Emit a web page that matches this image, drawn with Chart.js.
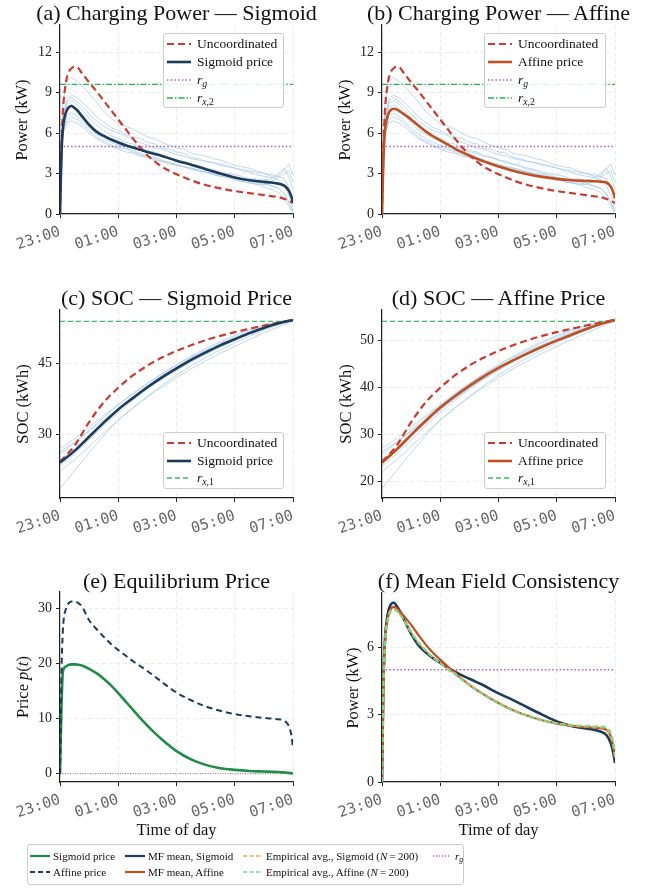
<!DOCTYPE html>
<html><head><meta charset="utf-8">
<script src="https://cdn.jsdelivr.net/npm/chart.js@4.4.1/dist/chart.umd.min.js"></script>
<style>
html,body{margin:0;padding:0;background:#fff;}
#wrap{position:relative;width:657px;height:888px;overflow:hidden;font-family:"Liberation Serif","Times New Roman",serif;color:#111;}
canvas{position:absolute;}
.t{position:absolute;white-space:nowrap;line-height:1;}
.title{font-size:22px;transform:translateX(-50%);}
.ylab{font-size:16.5px;transform:translate(-50%,-50%) rotate(-90deg);}
.xlab{font-size:16.5px;transform:translateX(-50%);}
.leg{position:absolute;border:1px solid #cccccc;border-radius:3px;background:rgba(255,255,255,0.85);box-sizing:border-box;}
.li{position:absolute;line-height:1;white-space:nowrap;transform:translateY(-50%);}
.sw{position:absolute;transform:translateY(-50%);}
sub{font-size:72%;vertical-align:-0.28em;line-height:0;}
</style></head><body><div id="wrap"></div>
<script>
// ---------------- DATA ----------------
const xTickHours = [0, 2, 4, 6, 8];
const xTickLabels = ["23:00", "01:00", "03:00", "05:00", "07:00"];
const powerTicks = [0, 3, 6, 9, 12];
const socTicksC = [30, 45];
const socTicksD = [20, 30, 40, 50];
const priceTicks = [0, 10, 20, 30];
const mfTicks = [0, 3, 6];

const rG = 5.0;      // r_g
const rX2 = 9.6;     // r_{x,2}
const rX1 = 54.0;    // r_{x,1}

// main curve time grid (hours after 23:00)
const hours = [0, 0.05, 0.1, 0.2, 0.3, 0.4, 0.5, 0.6, 0.75, 1.0, 1.25, 1.5, 1.75, 2.0, 2.25, 2.5, 2.75, 3.0, 3.25, 3.5, 3.75, 4.0, 4.5, 5.0, 5.5, 6.0, 6.5, 7.0, 7.25, 7.5, 7.7, 7.85, 7.95, 8.0];
const uncoordPower = [0, 5.0, 7.6, 9.7, 10.5, 10.8, 10.9, 10.85, 10.45, 9.75, 9.1, 8.4, 7.7, 7.0, 6.3, 5.6, 4.95, 4.35, 3.9, 3.5, 3.2, 2.95, 2.5, 2.15, 1.9, 1.7, 1.55, 1.4, 1.32, 1.25, 1.12, 1.0, 0.88, 0.8];
const sigmoidPower = [0, 4.5, 6.3, 7.5, 7.9, 8.0, 7.85, 7.65, 7.25, 6.6, 6.1, 5.78, 5.52, 5.3, 5.1, 4.92, 4.75, 4.6, 4.45, 4.3, 4.12, 3.95, 3.65, 3.32, 3.0, 2.7, 2.5, 2.38, 2.33, 2.25, 2.1, 1.75, 1.25, 0.85];
const affinePower = [0, 4.2, 6.1, 7.3, 7.7, 7.8, 7.75, 7.62, 7.4, 7.0, 6.55, 6.12, 5.76, 5.45, 5.15, 4.85, 4.58, 4.33, 4.1, 3.9, 3.7, 3.52, 3.2, 2.95, 2.75, 2.6, 2.5, 2.45, 2.43, 2.4, 2.33, 2.05, 1.55, 1.15];
const empSigmoidPower = [0, 4.4, 6.2, 7.3, 7.65, 7.72, 7.65, 7.5, 7.2, 6.65, 6.2, 5.85, 5.55, 5.3, 5.05, 4.85, 4.6, 4.35, 4.12, 3.9, 3.7, 3.52, 3.2, 2.95, 2.75, 2.62, 2.52, 2.47, 2.45, 2.43, 2.35, 2.05, 1.5, 1.05];
const empAffinePower = [0, 4.3, 6.1, 7.2, 7.6, 7.68, 7.62, 7.5, 7.22, 6.7, 6.22, 5.86, 5.55, 5.28, 5.02, 4.8, 4.55, 4.32, 4.1, 3.88, 3.68, 3.5, 3.18, 2.93, 2.74, 2.62, 2.53, 2.5, 2.48, 2.47, 2.42, 2.2, 1.7, 1.2];
const sigmoidPrice = [0, 12, 18.5, 19.4, 19.7, 19.8, 19.8, 19.75, 19.6, 19.0, 18.2, 17.2, 16.0, 14.6, 13.1, 11.6, 10.1, 8.7, 7.4, 6.2, 5.1, 4.1, 2.6, 1.6, 1.0, 0.7, 0.5, 0.4, 0.35, 0.3, 0.22, 0.15, 0.08, 0.05];
const affinePrice = [0, 18, 26, 29.8, 30.9, 31.2, 31.2, 31.0, 30.3, 27.8, 26.2, 24.8, 23.5, 22.4, 21.4, 20.4, 19.5, 18.6, 17.6, 16.6, 15.6, 14.7, 13.3, 12.2, 11.4, 10.8, 10.4, 10.1, 10.0, 9.85, 9.6, 8.7, 6.8, 4.6];

// SOC grid
const socHours = [0, 0.5, 1, 1.5, 2, 2.5, 3, 3.5, 4, 4.5, 5, 5.5, 6, 6.5, 7, 7.5, 8];
const uncoordSOC = [24.2, 27.6, 32.6, 36.8, 39.9, 42.5, 44.6, 46.3, 47.7, 48.9, 50.0, 50.9, 51.7, 52.4, 53.1, 53.7, 54.3];
const sigmoidSOC = [24.0, 26.5, 29.5, 32.5, 35.3, 37.7, 40.0, 42.1, 44.0, 45.8, 47.4, 48.9, 50.2, 51.5, 52.6, 53.6, 54.3];
const affineSOC = [24.0, 26.8, 29.9, 32.9, 35.7, 38.1, 40.3, 42.3, 44.1, 45.7, 47.2, 48.6, 49.9, 51.1, 52.3, 53.4, 54.3];

// sampled individual EV trajectories (light blue)
const sampleHours = [0, 0.1, 0.25, 0.4, 0.6, 0.8, 1.0, 1.25, 1.5, 1.75, 2.0, 2.25, 2.5, 2.75, 3.0, 3.25, 3.5, 3.75, 4.0, 4.25, 4.5, 4.75, 5.0, 5.25, 5.5, 5.75, 6.0, 6.25, 6.5, 6.75, 7.0, 7.25, 7.5, 7.7, 7.85, 8.0];
const samplePower1 = [0, 8.2, 9.9, 10.1, 9.8, 9.4, 8.9, 8.3, 7.6, 7.1, 6.7, 6.5, 6.3, 6.0, 5.7, 5.6, 5.3, 5.1, 4.9, 4.8, 4.5, 4.4, 4.3, 4.1, 4.0, 3.8, 3.6, 3.5, 3.4, 3.2, 3.0, 2.8, 2.5, 2.1, 1.4, 0.5];
const samplePower2 = [0, 7.3, 8.6, 8.8, 8.6, 8.2, 7.8, 7.2, 6.8, 6.4, 6.2, 5.9, 5.7, 5.6, 5.3, 5.2, 4.9, 4.8, 4.6, 4.5, 4.2, 4.1, 3.9, 3.8, 3.6, 3.5, 3.4, 3.2, 3.1, 2.9, 2.8, 2.7, 2.8, 3.3, 3.7, 2.9];
const samplePower3 = [0, 7.0, 8.2, 8.4, 8.1, 7.6, 7.1, 6.6, 6.2, 5.8, 5.6, 5.3, 5.2, 4.9, 4.7, 4.6, 4.3, 4.2, 4.0, 3.8, 3.7, 3.5, 3.3, 3.2, 3.0, 2.9, 2.7, 2.6, 2.5, 2.4, 2.3, 2.1, 1.9, 1.5, 0.9, 0.1];
const samplePower4 = [0, 6.7, 7.9, 8.1, 7.8, 7.3, 6.8, 6.2, 5.9, 5.6, 5.4, 5.1, 5.0, 4.8, 4.6, 4.5, 4.3, 4.2, 4.0, 3.9, 3.7, 3.6, 3.4, 3.3, 3.1, 3.0, 2.9, 2.8, 2.6, 2.6, 2.5, 2.6, 3.0, 3.4, 2.8, 1.8];
const samplePower5 = [0, 6.3, 7.3, 7.5, 7.2, 6.8, 6.4, 5.9, 5.6, 5.3, 5.1, 4.9, 4.7, 4.5, 4.3, 4.2, 4.0, 3.8, 3.7, 3.5, 3.4, 3.2, 3.1, 2.9, 2.8, 2.7, 2.5, 2.4, 2.3, 2.2, 2.0, 1.8, 1.6, 1.2, 0.6, 0];
const samplePower6 = [0, 6.1, 7.0, 7.2, 7.0, 6.6, 6.2, 5.7, 5.4, 5.1, 4.9, 4.8, 4.6, 4.4, 4.2, 4.1, 3.9, 3.8, 3.6, 3.5, 3.3, 3.2, 3.1, 3.0, 2.8, 2.7, 2.6, 2.4, 2.3, 2.2, 2.2, 2.4, 2.7, 3.0, 3.2, 2.4];
const samplePower7 = [0, 5.9, 6.8, 6.9, 6.7, 6.4, 6.0, 5.6, 5.3, 5.0, 4.8, 4.6, 4.5, 4.3, 4.2, 4.0, 3.9, 3.7, 3.6, 3.5, 3.4, 3.3, 3.1, 3.0, 2.9, 2.8, 2.7, 2.6, 2.4, 2.3, 2.2, 2.1, 1.9, 1.5, 0.9, 0.3];
const samplePower8 = [0, 7.1, 8.4, 8.6, 8.3, 7.9, 7.4, 6.9, 6.5, 6.2, 6.0, 5.8, 5.5, 5.3, 5.1, 4.9, 4.8, 4.6, 4.4, 4.3, 4.1, 4.0, 3.9, 3.8, 3.7, 3.6, 3.4, 3.3, 3.2, 3.1, 3.0, 2.9, 2.8, 2.6, 2.0, 1.1];
const sampleSOC1 = [18.5, 22.3, 26.1, 29.7, 33.0, 35.6, 37.9, 40.0, 42.0, 43.9, 45.6, 47.2, 48.7, 50.1, 51.5, 52.8, 54.0];
const sampleSOC2 = [22.2, 24.6, 27.4, 30.3, 33.0, 35.6, 38.1, 40.4, 42.6, 44.5, 46.3, 47.9, 49.4, 50.8, 52.1, 53.2, 54.1];
const sampleSOC3 = [23.3, 25.9, 28.9, 31.9, 34.6, 37.2, 39.6, 41.7, 43.6, 45.4, 47.0, 48.5, 49.9, 51.2, 52.4, 53.4, 54.2];
const sampleSOC4 = [24.5, 27.0, 29.8, 32.6, 35.3, 37.9, 40.3, 42.4, 44.3, 46.1, 47.6, 49.0, 50.3, 51.6, 52.7, 53.6, 54.3];
const sampleSOC5 = [25.8, 28.2, 30.9, 33.6, 36.1, 38.5, 40.7, 42.8, 44.7, 46.4, 47.9, 49.4, 50.7, 51.9, 53.0, 53.8, 54.4];
const sampleSOC6 = [26.3, 28.4, 30.7, 33.0, 35.4, 37.6, 39.8, 41.8, 43.7, 45.5, 47.1, 48.6, 50.1, 51.4, 52.6, 53.6, 54.3];
const sampleSOC7 = [27.0, 29.1, 31.5, 34.0, 36.4, 38.7, 40.9, 42.9, 44.8, 46.6, 48.2, 49.7, 51.0, 52.2, 53.2, 53.9, 54.4];
const sampleSOC8 = [23.8, 26.5, 29.5, 32.4, 35.2, 37.6, 39.9, 42.0, 44.0, 45.8, 47.3, 48.8, 50.2, 51.4, 52.5, 53.5, 54.2];

// ---------------- STYLE ----------------
const C = {
  uncoord: '#cc3b30', navy: '#1d3b5c', affine: '#bf5022', rg: '#a65bd8', rx2: '#27b24f', rx1: '#3dba6b',
  green: '#1f8c48', empSig: '#f2a34f', empAff: '#70dc8e', sample: 'rgba(160,198,226,0.75)'
};
const wrap = document.getElementById('wrap');
const pts = (xs, ys) => xs.map((x, i) => ({x: x, y: ys[i]}));
const hline = (v) => [{x: 0, y: v}, {x: 8, y: v}];
function ds(data, color, width, dash, extra) {
  return Object.assign({data: data, borderColor: color, borderWidth: width, borderDash: dash || [],
    pointRadius: 0, fill: false, cubicInterpolationMode: 'monotone', tension: 0}, extra || {});
}
const samplePowers = [samplePower1, samplePower2, samplePower3, samplePower4, samplePower5, samplePower6, samplePower7, samplePower8];
const sampleSOCs = [sampleSOC1, sampleSOC2, sampleSOC3, sampleSOC4, sampleSOC5, sampleSOC6, sampleSOC7, sampleSOC8];
const samplesP = () => samplePowers.map(a => ds(pts(sampleHours, a), C.sample, 0.9, [], {cubicInterpolationMode: 'default'}));
const samplesS = () => sampleSOCs.map(a => ds(pts(socHours, a), C.sample, 0.9, []));

function makeChart(p, layers) {
  const x0 = p.L - 60, y0 = p.T - 14, cw = p.R - x0 + 12, ch = p.B - y0 + 50;
  const c = document.createElement('canvas');
  c.width = cw; c.height = ch;
  Object.assign(c.style, {left: x0 + 'px', top: y0 + 'px', width: cw + 'px', height: ch + 'px'});
  wrap.appendChild(c);
  const gridCommon = {color: '#e6e6e6', lineWidth: 0.8, tickColor: '#222', tickLength: 4, tickWidth: 1};
  const borderCommon = {color: '#222', width: 1.2, dash: [4, 3]};
  const datasets = layers.slice().reverse();
  new Chart(c, {
    type: 'line',
    data: {datasets: datasets},
    options: {
      responsive: false, animation: false, devicePixelRatio: 1,
      layout: {padding: {left: 0, top: 14, right: 12, bottom: 0}},
      plugins: {legend: {display: false}, tooltip: {enabled: false}, title: {display: false}},
      scales: {
        x: {type: 'linear', min: 0, max: 8,
          afterFit: s => { s.height = 50; },
          afterBuildTicks: s => { s.ticks = xTickHours.map(v => ({value: v})); },
          ticks: {autoSkip: false, minRotation: 18, maxRotation: 18, padding: 5, color: '#666',
            font: {family: 'DejaVu Sans Mono', size: 15},
            callback: v => xTickLabels[xTickHours.indexOf(v)]},
          grid: gridCommon, border: borderCommon},
        y: {type: 'linear', min: p.ymin, max: p.ymax,
          afterFit: s => { s.width = 60; },
          afterBuildTicks: s => { s.ticks = p.yticks.map(v => ({value: v})); },
          ticks: {padding: 4, color: '#222', font: {family: 'Liberation Serif', size: 14}},
          grid: gridCommon, border: borderCommon}
      }
    }
  });
}

function addText(html, cls, x, y) {
  const d = document.createElement('div');
  d.className = 't ' + cls; d.innerHTML = html;
  d.style.left = x + 'px'; d.style.top = y + 'px';
  wrap.appendChild(d); return d;
}
function swatch(x, y, w, color, width, dash) {
  const s = document.createElement('div'); s.className = 'sw';
  s.style.left = x + 'px'; s.style.top = y + 'px';
  s.innerHTML = `<svg width="${w}" height="10" style="display:block"><line x1="0" y1="5" x2="${w}" y2="5" stroke="${color}" stroke-width="${width}" ${dash ? `stroke-dasharray="${dash}"` : ''}/></svg>`;
  wrap.appendChild(s);
}
function legendBox(x, y, w, h, rows, firstY, dy, fs) {
  const b = document.createElement('div'); b.className = 'leg';
  Object.assign(b.style, {left: x + 'px', top: y + 'px', width: w + 'px', height: h + 'px'});
  wrap.appendChild(b);
  rows.forEach((r, i) => {
    const ry = firstY + i * dy;
    swatch(x + 4, ry, 24, r.color, r.width, r.dash);
    const t = addText(r.html, 'li', x + 34, ry);
    t.style.fontSize = fs + 'px';
  });
}

// ---------------- PANELS ----------------
const PA = {L: 60, T: 25, R: 293, B: 214, ymin: 0, ymax: 14, yticks: powerTicks};
const PB = {L: 382, T: 25, R: 615, B: 214, ymin: 0, ymax: 14, yticks: powerTicks};
const PC = {L: 60, T: 310, R: 293, B: 498, ymin: 16.5, ymax: 56.4, yticks: socTicksC};
const PD = {L: 382, T: 310, R: 615, B: 498, ymin: 16.5, ymax: 56.4, yticks: socTicksD};
const PE = {L: 60, T: 592, R: 293, B: 782, ymin: -1.5, ymax: 32.9, yticks: priceTicks};
const PF = {L: 382, T: 593, R: 615, B: 782, ymin: 0, ymax: 8.42, yticks: mfTicks};

const RG = {html: '<i>r</i><sub><i>g</i></sub>', color: C.rg, width: 1.6, dash: '1.5 2.2'};
const RX2 = {html: '<i>r</i><sub><i>x</i>,2</sub>', color: C.rx2, width: 1.3, dash: '6 2 1.5 2'};
const RX1 = {html: '<i>r</i><sub><i>x</i>,1</sub>', color: C.rx1, width: 1.3, dash: '5 3'};
const UNC = {html: 'Uncoordinated', color: C.uncoord, width: 2.2, dash: '7 4'};

makeChart(PA, [].concat(samplesP(), [
  ds(hline(rG), C.rg, 1.6, [1.5, 2.2]),
  ds(hline(rX2), C.rx2, 1.3, [6, 2, 1.5, 2]),
  ds(pts(hours, uncoordPower), C.uncoord, 2.2, [7, 4]),
  ds(pts(hours, sigmoidPower), C.navy, 2.6, [])
]));
makeChart(PB, [].concat(samplesP(), [
  ds(hline(rG), C.rg, 1.6, [1.5, 2.2]),
  ds(hline(rX2), C.rx2, 1.3, [6, 2, 1.5, 2]),
  ds(pts(hours, uncoordPower), C.uncoord, 2.2, [7, 4]),
  ds(pts(hours, affinePower), C.affine, 2.6, [])
]));
makeChart(PC, [].concat(samplesS(), [
  ds(hline(rX1), C.rx1, 1.3, [5, 3]),
  ds(pts(socHours, uncoordSOC), C.uncoord, 2.2, [7, 4]),
  ds(pts(socHours, sigmoidSOC), C.navy, 2.6, [])
]));
makeChart(PD, [].concat(samplesS(), [
  ds(hline(rX1), C.rx1, 1.3, [5, 3]),
  ds(pts(socHours, uncoordSOC), C.uncoord, 2.2, [7, 4]),
  ds(pts(socHours, affineSOC), C.affine, 2.6, [])
]));
makeChart(PE, [
  ds(hline(0), '#555', 0.8, [1, 1.5]),
  ds(pts(hours, sigmoidPrice), C.green, 2.6, []),
  ds(pts(hours, affinePrice), C.navy, 2.0, [6, 4])
]);
makeChart(PF, [
  ds(hline(rG), C.rg, 1.6, [1.5, 2.2]),
  ds(pts(hours, sigmoidPower), C.navy, 2.6, []),
  ds(pts(hours, affinePower), C.affine, 2.2, []),
  ds(pts(hours, empSigmoidPower), C.empSig, 2.0, [5, 3]),
  ds(pts(hours, empAffinePower), C.empAff, 2.0, [5, 3])
]);

// ---------------- TEXT ----------------
const TB = 18.4;
addText('(a) Charging Power — Sigmoid', 'title', 176.5, 20 - TB);
addText('(b) Charging Power — Affine', 'title', 498.5, 20 - TB);
addText('(c) SOC — Sigmoid Price', 'title', 176.5, 305 - TB);
addText('(d) SOC — Affine Price', 'title', 498.5, 305 - TB);
addText('(e) Equilibrium Price', 'title', 176.5, 588 - TB);
addText('(f) Mean Field Consistency', 'title', 498.5, 588 - TB);

addText('Power (kW)', 'ylab', 22, 119.5);
addText('Power (kW)', 'ylab', 344.5, 119.5);
addText('SOC (kWh)', 'ylab', 22.5, 404);
addText('SOC (kWh)', 'ylab', 346, 404);
addText('Price <i>p</i>(<i>t</i>)', 'ylab', 23, 687);
addText('Power (kW)', 'ylab', 353, 687.5);

addText('Time of day', 'xlab', 176.5, 822);
addText('Time of day', 'xlab', 498.5, 822);

legendBox(163, 33, 121, 75, [UNC, {html: 'Sigmoid price', color: C.navy, width: 2.6}, RG, RX2], 44, 18, 13.5);
legendBox(484, 33, 122, 75, [UNC, {html: 'Affine price', color: C.affine, width: 2.6}, RG, RX2], 44, 18, 13.5);
legendBox(163, 432, 121, 57, [UNC, {html: 'Sigmoid price', color: C.navy, width: 2.6}, RX1], 443, 17.5, 13.5);
legendBox(484, 432, 122, 57, [UNC, {html: 'Affine price', color: C.affine, width: 2.6}, RX1], 443, 17.5, 13.5);

(function () {
  const b = document.createElement('div'); b.className = 'leg';
  Object.assign(b.style, {left: '27px', top: '844px', width: '437px', height: '41px'});
  wrap.appendChild(b);
  const items = [
    [30, 855.7, 20, 53, 'Sigmoid price', C.green, 2.2, ''],
    [30, 872.3, 20, 53, 'Affine price', C.navy, 2.0, '5 3'],
    [125, 855.7, 20, 148, 'MF mean, Sigmoid', C.navy, 2.2, ''],
    [125, 872.3, 20, 148, 'MF mean, Affine', C.affine, 2.2, ''],
    [243, 855.7, 20, 266, 'Empirical avg., Sigmoid (<i>N</i>\u2009=\u2009200)', C.empSig, 1.6, '4 2.5'],
    [243, 872.3, 20, 266, 'Empirical avg., Affine (<i>N</i>\u2009=\u2009200)', C.empAff, 1.6, '4 2.5'],
    [433, 855.7, 17, 455, '<i>r</i><sub><i>g</i></sub>', C.rg, 1.3, '1.2 1.8']
  ];
  items.forEach(it => {
    swatch(it[0], it[1], it[2], it[5], it[6], it[7]);
    const t = addText(it[4], 'li', it[3], it[1]);
    t.style.fontSize = '11px';
  });
})();
</script></body></html>
